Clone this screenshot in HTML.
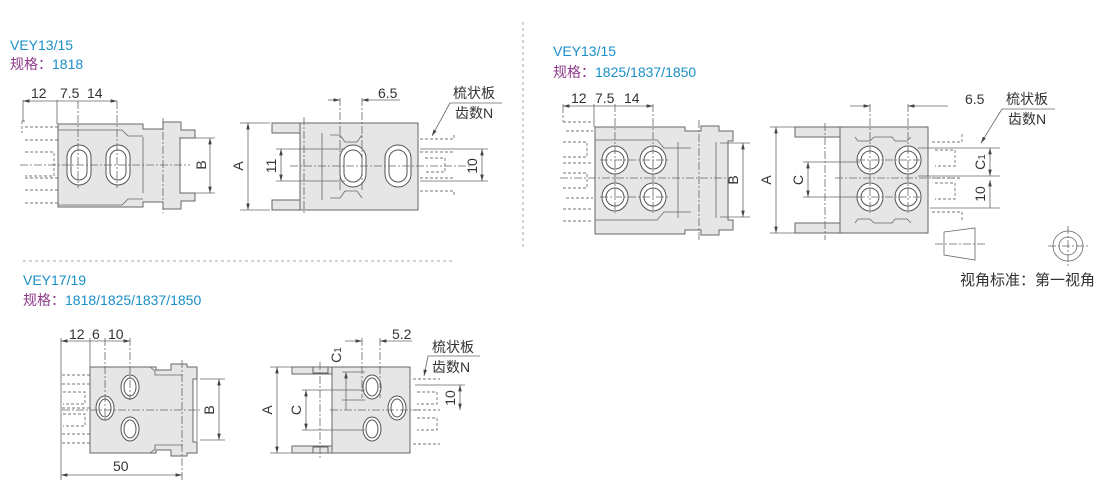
<!DOCTYPE html>
<html><head><meta charset="utf-8"><style>
html,body{margin:0;padding:0;background:#fff;width:1110px;height:480px;overflow:hidden}
svg{display:block}
.t{font-family:"Liberation Sans","Noto Sans CJK SC",sans-serif}
.b{fill:#e6e6e6;stroke:#666;stroke-width:1}
.l{stroke:#666;stroke-width:0.8;fill:none}
.c{stroke:#666;stroke-width:0.8;fill:none;stroke-dasharray:8 2 2 2}
.d{stroke:#777;stroke-width:0.9;fill:none;stroke-dasharray:3 2}
.h{fill:#fff;stroke:#555;stroke-width:1}
</style></head><body>
<svg width="1110" height="480" viewBox="0 0 1110 480" xmlns="http://www.w3.org/2000/svg">
<defs>
<marker id="a" markerWidth="8" markerHeight="6" refX="8" refY="3" orient="auto-start-reverse"><path d="M0,0.8 L8,3 L0,5.2z" fill="#444"/></marker>
</defs>
<g class="t" font-size="14">
<text x="10" y="50" fill="#1a8fc9">VEY13/15</text>
<text x="10" y="69" fill="#8e3a8a">规格：<tspan fill="#1a8fc9">1818</tspan></text>
<text x="553" y="56" fill="#1a8fc9">VEY13/15</text>
<text x="553" y="77" fill="#8e3a8a">规格：<tspan fill="#1a8fc9">1825/1837/1850</tspan></text>
<text x="23" y="285" fill="#1a8fc9">VEY17/19</text>
<text x="23" y="305" fill="#8e3a8a">规格：<tspan fill="#1a8fc9">1818/1825/1837/1850</tspan></text>
</g>
<line x1="523" y1="22" x2="523" y2="250" stroke="#aaa" stroke-dasharray="3 3"/>
<line x1="23" y1="261" x2="452" y2="261" stroke="#aaa" stroke-dasharray="3 3"/>

<!-- Drawing 1 left -->
<g>
<path class="d" d="M22,121 v12 M22,121 h4 M25,127 h36 M25,140 h36 M25,152 h29 v24 h-29 M25,178 h36 M25,190 h36 M25,203 h36"/>
<path class="b" d="M58,124 h85 v5 h20 v-7 h18 v8 h14 v8 h-15 v55 h15 v8 h-14 v8 h-18 v-7 h-20 v5 h-85z"/>
<path class="l" d="M58,130 h64 l6,6 h15 M58,205 h64 l6,-6 h15"/>
<line class="l" x1="143" y1="137" x2="143" y2="193"/>
<line class="l" x1="180" y1="137" x2="180" y2="193"/>
<rect class="h" x="67" y="145" width="24" height="40" rx="12"/>
<rect class="h" x="71" y="150" width="16" height="30" rx="8"/>
<rect class="h" x="106" y="145" width="24" height="40" rx="12"/>
<rect class="h" x="110" y="150" width="16" height="30" rx="8"/>
<line class="c" x1="20" y1="165" x2="190" y2="165"/>
<line class="c" x1="78" y1="101" x2="78" y2="188"/>
<line class="c" x1="117" y1="101" x2="117" y2="188"/>
<line class="c" x1="163" y1="118" x2="163" y2="213"/>
<line class="l" x1="23" y1="100" x2="23" y2="121"/>
<line class="l" x1="57" y1="100" x2="57" y2="124"/>
<line class="l" x1="23" y1="101" x2="117" y2="101" marker-start="url(#a)" marker-end="url(#a)"/>
<line class="l" x1="185" y1="138" x2="215" y2="138"/><line class="l" x1="185" y1="193" x2="215" y2="193"/>
<line class="l" x1="210" y1="138" x2="210" y2="193" marker-start="url(#a)" marker-end="url(#a)"/>
<g class="t" font-size="14" fill="#333"><text x="31" y="98">12</text><text x="60" y="98">7.5</text><text x="87" y="98">14</text>
<text transform="translate(210,165) rotate(-90)" text-anchor="middle" x="0" y="-4">B</text></g>
</g>

<!-- Drawing 1 right -->
<g>
<rect class="b" x="272" y="123" width="50" height="10"/>
<rect class="b" x="272" y="200" width="50" height="10"/>
<path class="b" d="M300,123 h118 v87 h-118z"/>
<path class="l" d="M322,133 v67 M330,135 h10 l5,7 h12 l5,-7 M330,198 h10 l5,-7 h12 l5,7"/>
<rect class="h" x="340" y="145" width="26" height="42" rx="13"/>
<rect class="h" x="344" y="150" width="18" height="32" rx="9"/>
<rect class="h" x="385" y="145" width="26" height="42" rx="13"/>
<rect class="h" x="389" y="150" width="18" height="32" rx="9"/>
<path class="d" d="M420,139 h34 v-5 M420,152 h34 M425,158 h20 v14 h-20 M420,178 h34 M420,191 h34 v5"/>
<line class="c" x1="290" y1="166" x2="470" y2="166"/>
<line class="c" x1="304" y1="117" x2="304" y2="213"/>
<line class="c" x1="340" y1="98" x2="340" y2="190"/>
<line class="c" x1="362" y1="98" x2="362" y2="190"/>
<line class="l" x1="328" y1="100" x2="340" y2="100" marker-end="url(#a)"/>
<line class="l" x1="362" y1="100" x2="400" y2="100" marker-start="url(#a)"/>
<line class="l" x1="240" y1="123" x2="270" y2="123"/><line class="l" x1="240" y1="210" x2="270" y2="210"/>
<line class="l" x1="248" y1="123" x2="248" y2="210" marker-start="url(#a)" marker-end="url(#a)"/>
<line class="l" x1="276" y1="149" x2="345" y2="149"/><line class="l" x1="276" y1="181" x2="345" y2="181"/>
<line class="l" x1="281" y1="149" x2="281" y2="181" marker-start="url(#a)" marker-end="url(#a)"/>
<line class="l" x1="420" y1="149" x2="488" y2="149"/><line class="l" x1="420" y1="181" x2="488" y2="181"/>
<line class="l" x1="482" y1="149" x2="482" y2="181" marker-start="url(#a)" marker-end="url(#a)"/>
<line class="l" x1="450" y1="103" x2="502" y2="103"/><line class="l" x1="450" y1="103" x2="432" y2="136" marker-end="url(#a)"/>
<g class="t" font-size="14" fill="#333"><text x="378" y="98">6.5</text><text x="453" y="98">梳状板</text><text x="455" y="118">齿数N</text>
<text transform="translate(248,166) rotate(-90)" text-anchor="middle" y="-5">A</text>
<text transform="translate(281,166) rotate(-90)" text-anchor="middle" y="-5">11</text>
<text transform="translate(482,166) rotate(-90)" text-anchor="middle" y="-5">10</text></g>
</g>

<!-- Drawing 2 left -->
<g>
<path class="d" d="M563,110 v12 M563,122 h30 M566,131 h27 M563,142 h24 v15 h-24 M563,163 h30 M563,173 h24 v15 h-24 M566,198 h27 M563,209 h30 M563,221 h30"/>
<path class="b" d="M595,127 h90 v4 h16 v-5 h18 v5 h14 v10 h-5 v79 h5 v10 h-14 v5 h-18 v-5 h-16 v4 h-90z"/>
<path class="l" d="M595,140 h62 l7,8 h27 M595,220 h62 l7,-8 h27"/>
<line class="l" x1="678" y1="142" x2="678" y2="218"/>
<line class="l" x1="716" y1="142" x2="716" y2="218"/>
<ellipse class="h" cx="615" cy="160" rx="13" ry="14"/><circle class="h" cx="615" cy="160" r="9"/>
<ellipse class="h" cx="653" cy="160" rx="13" ry="14"/><circle class="h" cx="653" cy="160" r="9"/>
<ellipse class="h" cx="615" cy="197" rx="13" ry="14"/><circle class="h" cx="615" cy="197" r="9"/>
<ellipse class="h" cx="653" cy="197" rx="13" ry="14"/><circle class="h" cx="653" cy="197" r="9"/>
<line class="c" x1="560" y1="178" x2="730" y2="178"/>
<line class="c" x1="600" y1="160" x2="670" y2="160"/><line class="c" x1="600" y1="197" x2="670" y2="197"/>
<line class="c" x1="615" y1="104" x2="615" y2="213"/>
<line class="c" x1="653" y1="104" x2="653" y2="213"/>
<line class="c" x1="699" y1="120" x2="699" y2="240"/>
<line class="l" x1="563" y1="104" x2="563" y2="110"/><line class="l" x1="594" y1="104" x2="594" y2="127"/>
<line class="l" x1="563" y1="106" x2="653" y2="106" marker-start="url(#a)" marker-end="url(#a)"/>
<line class="l" x1="720" y1="143" x2="750" y2="143"/><line class="l" x1="720" y1="217" x2="750" y2="217"/>
<line class="l" x1="743" y1="143" x2="743" y2="217" marker-start="url(#a)" marker-end="url(#a)"/>
<g class="t" font-size="14" fill="#333"><text x="571" y="103">12</text><text x="595" y="103">7.5</text><text x="624" y="103">14</text>
<text transform="translate(743,180) rotate(-90)" text-anchor="middle" y="-5">B</text></g>
</g>

<!-- Drawing 2 right -->
<g>
<rect class="b" x="795" y="127" width="50" height="10"/>
<rect class="b" x="795" y="223" width="50" height="10"/>
<rect class="b" x="840" y="127" width="88" height="106"/>
<path class="l" d="M855,137 l3,4 h12 l4,-4 h18 l3,4 h12 l4,-4 M855,223 l3,-4 h12 l4,4 h18 l3,-4 h12 l4,4"/>
<ellipse class="h" cx="870" cy="160" rx="13" ry="14"/><circle class="h" cx="870" cy="160" r="9"/>
<ellipse class="h" cx="908" cy="160" rx="13" ry="14"/><circle class="h" cx="908" cy="160" r="9"/>
<ellipse class="h" cx="870" cy="197" rx="13" ry="14"/><circle class="h" cx="870" cy="197" r="9"/>
<ellipse class="h" cx="908" cy="197" rx="13" ry="14"/><circle class="h" cx="908" cy="197" r="9"/>
<path class="d" d="M932,142 h30 v-10 M935,150 h20 v16 h-20 M932,178 h30 M935,183 h20 v16 h-20 M932,212 h30 v10"/>
<line class="c" x1="835" y1="178" x2="960" y2="178"/>
<line class="c" x1="857" y1="160" x2="920" y2="160"/><line class="c" x1="857" y1="197" x2="920" y2="197"/>
<line class="c" x1="825" y1="123" x2="825" y2="240"/>
<line class="c" x1="870" y1="104" x2="870" y2="213"/>
<line class="c" x1="908" y1="104" x2="908" y2="213"/>
<line class="l" x1="850" y1="106" x2="870" y2="106" marker-end="url(#a)"/>
<line class="l" x1="908" y1="106" x2="948" y2="106" marker-start="url(#a)"/>
<line class="l" x1="770" y1="127" x2="795" y2="127"/><line class="l" x1="770" y1="233" x2="795" y2="233"/>
<line class="l" x1="776" y1="127" x2="776" y2="233" marker-start="url(#a)" marker-end="url(#a)"/>
<line class="l" x1="803" y1="162" x2="860" y2="162"/><line class="l" x1="803" y1="197" x2="860" y2="197"/>
<line class="l" x1="808" y1="162" x2="808" y2="197" marker-start="url(#a)" marker-end="url(#a)"/>
<line class="l" x1="918" y1="148" x2="1000" y2="148"/><line class="l" x1="918" y1="176" x2="1000" y2="176"/><line class="l" x1="930" y1="208" x2="1000" y2="208"/>
<line class="l" x1="990" y1="148" x2="990" y2="176" marker-start="url(#a)" marker-end="url(#a)"/>
<line class="l" x1="990" y1="180" x2="990" y2="208" marker-start="url(#a)"/>
<line class="l" x1="1002" y1="109" x2="1055" y2="109"/><line class="l" x1="1002" y1="109" x2="981" y2="143" marker-end="url(#a)"/>
<g class="t" font-size="14" fill="#333"><text x="965" y="104">6.5</text><text x="1006" y="104">梳状板</text><text x="1008" y="124">齿数N</text>
<text transform="translate(776,180) rotate(-90)" text-anchor="middle" y="-5">A</text>
<text transform="translate(808,180) rotate(-90)" text-anchor="middle" y="-5">C</text>
<text transform="translate(990,162) rotate(-90)" text-anchor="middle" y="-5">C<tspan font-size="10">1</tspan></text>
<text transform="translate(990,194) rotate(-90)" text-anchor="middle" y="-5">10</text></g>
<path class="l" d="M944,232 L975,228 V260 L944,255 Z" stroke-width="1"/>
<line class="c" x1="935" y1="244" x2="985" y2="244"/>
<circle class="l" cx="1068" cy="246" r="15"/><circle class="l" cx="1068" cy="246" r="9"/>
<line class="c" x1="1048" y1="246" x2="1088" y2="246"/><line class="c" x1="1068" y1="226" x2="1068" y2="266"/>
<text class="t" x="960" y="285" font-size="15" fill="#333">视角标准：第一视角</text>
</g>

<!-- Drawing 3 left -->
<g>
<path class="d" d="M62,375 h28 M62,384 h28 M63,392 h22 v12 h-22 M62,408 h28 M63,414 h22 v12 h-22 M62,434 h28 M62,443 h28"/>
<path class="b" d="M90,367 h66 v3 h15 v-6 h16 v3 h10 v12 h-4 v63 h4 v11 h-10 v3 h-16 v-6 h-15 v3 h-66z"/>
<path class="l" d="M150,367 l5,4 v4 h28 M150,453 l5,-4 v-4 h28"/>
<line class="l" x1="197" y1="379" x2="197" y2="441"/>
<ellipse class="h" cx="130" cy="387" rx="9" ry="12"/><ellipse class="h" cx="130" cy="387" rx="6" ry="9"/>
<ellipse class="h" cx="105" cy="408" rx="9" ry="12"/><ellipse class="h" cx="105" cy="408" rx="6" ry="9"/>
<ellipse class="h" cx="130" cy="429" rx="9" ry="12"/><ellipse class="h" cx="130" cy="429" rx="6" ry="9"/>
<line class="c" x1="62" y1="410" x2="200" y2="410"/>
<line class="c" x1="105" y1="338" x2="105" y2="422"/>
<line class="c" x1="130" y1="338" x2="130" y2="400"/>
<line class="c" x1="182" y1="360" x2="182" y2="480"/>
<line class="l" x1="61" y1="338" x2="61" y2="480"/><line class="l" x1="90" y1="338" x2="90" y2="367"/>
<line class="l" x1="61" y1="341" x2="130" y2="341" marker-start="url(#a)" marker-end="url(#a)"/>
<line class="l" x1="61" y1="475" x2="182" y2="475" marker-start="url(#a)" marker-end="url(#a)"/>
<line class="l" x1="200" y1="379" x2="225" y2="379"/><line class="l" x1="200" y1="440" x2="225" y2="440"/>
<line class="l" x1="219" y1="379" x2="219" y2="440" marker-start="url(#a)" marker-end="url(#a)"/>
<g class="t" font-size="14" fill="#333"><text x="69" y="339">12</text><text x="92" y="339">6</text><text x="108" y="339">10</text><text x="113" y="471">50</text>
<text transform="translate(219,410) rotate(-90)" text-anchor="middle" y="-5">B</text></g>
</g>

<!-- Drawing 3 right -->
<g>
<rect class="b" x="292" y="367" width="42" height="7"/>
<rect class="b" x="292" y="446" width="42" height="7"/>
<rect class="b" x="332" y="367" width="78" height="86"/>
<rect class="b" x="313" y="367" width="15" height="6"/><rect class="b" x="313" y="447" width="15" height="6"/>
<ellipse class="h" cx="372" cy="387" rx="9" ry="12"/><ellipse class="h" cx="372" cy="387" rx="6" ry="9"/>
<ellipse class="h" cx="397" cy="408" rx="9" ry="12"/><ellipse class="h" cx="397" cy="408" rx="6" ry="9"/>
<ellipse class="h" cx="372" cy="429" rx="9" ry="12"/><ellipse class="h" cx="372" cy="429" rx="6" ry="9"/>
<path class="d" d="M413,379 h27 M417,392 h20 v12 h-20 M413,410 h27 M417,418 h20 v12 h-20 M413,444 h27"/>
<line class="c" x1="330" y1="410" x2="420" y2="410"/>
<line class="c" x1="320" y1="362" x2="320" y2="458"/>
<line class="c" x1="362" y1="338" x2="362" y2="398"/><line class="c" x1="380" y1="338" x2="380" y2="398"/>
<line class="l" x1="345" y1="341" x2="362" y2="341" marker-end="url(#a)"/>
<line class="l" x1="380" y1="341" x2="412" y2="341" marker-start="url(#a)"/>
<line class="l" x1="270" y1="367" x2="292" y2="367"/><line class="l" x1="270" y1="453" x2="292" y2="453"/>
<line class="l" x1="277" y1="367" x2="277" y2="453" marker-start="url(#a)" marker-end="url(#a)"/>
<line class="l" x1="302" y1="390" x2="365" y2="390"/><line class="l" x1="302" y1="430" x2="365" y2="430"/>
<line class="l" x1="306" y1="390" x2="306" y2="430" marker-start="url(#a)" marker-end="url(#a)"/>
<line class="l" x1="342" y1="372" x2="365" y2="372"/><line class="l" x1="342" y1="400" x2="365" y2="400"/>
<line class="l" x1="346" y1="372" x2="346" y2="410" marker-start="url(#a)"/>
<line class="l" x1="415" y1="385" x2="465" y2="385"/>
<line class="l" x1="460" y1="385" x2="460" y2="410" marker-start="url(#a)" marker-end="url(#a)"/>
<line class="l" x1="428" y1="356" x2="480" y2="356"/><line class="l" x1="428" y1="356" x2="424" y2="376" marker-end="url(#a)"/>
<g class="t" font-size="14" fill="#333"><text x="392" y="339">5.2</text><text x="432" y="352">梳状板</text><text x="432" y="372">齿数N</text>
<text transform="translate(277,410) rotate(-90)" text-anchor="middle" y="-5">A</text>
<text transform="translate(306,410) rotate(-90)" text-anchor="middle" y="-5">C</text>
<text transform="translate(346,355) rotate(-90)" text-anchor="middle" y="-5">C<tspan font-size="10">1</tspan></text>
<text transform="translate(460,398) rotate(-90)" text-anchor="middle" y="-5">10</text></g>
</g>
</svg>
</body></html>
